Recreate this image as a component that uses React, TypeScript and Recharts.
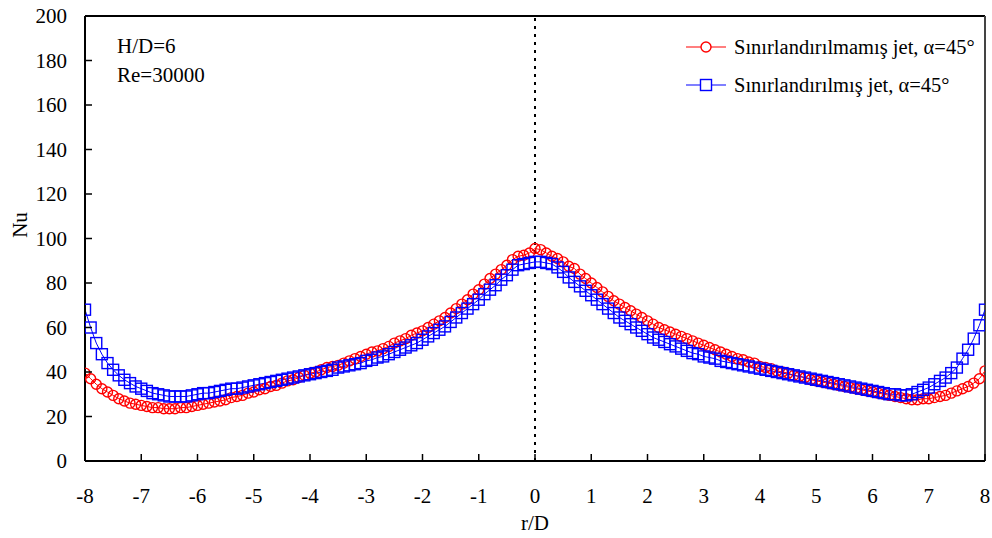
import { LineChart, Line, XAxis, YAxis, ReferenceLine, Customized } from "recharts";

const RED = "#ff0000";
const BLUE = "#0000ff";
const FONT = "'Liberation Serif', 'Times New Roman', serif";

// r/D positions of the measurement points
const R = [
  -8, -7.9, -7.8, -7.7, -7.6, -7.5, -7.4, -7.3, -7.2, -7.1,
  -7, -6.9, -6.8, -6.7, -6.6, -6.5, -6.4, -6.3, -6.2, -6.1,
  -6, -5.9, -5.8, -5.7, -5.6, -5.5, -5.4, -5.3, -5.2, -5.1,
  -5, -4.9, -4.8, -4.7, -4.6, -4.5, -4.4, -4.3, -4.2, -4.1,
  -4, -3.9, -3.8, -3.7, -3.6, -3.5, -3.4, -3.3, -3.2, -3.1,
  -3, -2.9, -2.8, -2.7, -2.6, -2.5, -2.4, -2.3, -2.2, -2.1,
  -2, -1.9, -1.8, -1.7, -1.6, -1.5, -1.4, -1.3, -1.2, -1.1,
  -1, -0.9, -0.8, -0.7, -0.6, -0.5, -0.4, -0.3, -0.2, -0.1,
  0, 0.1, 0.2, 0.3, 0.4, 0.5, 0.6, 0.7, 0.8, 0.9,
  1, 1.1, 1.2, 1.3, 1.4, 1.5, 1.6, 1.7, 1.8, 1.9,
  2, 2.1, 2.2, 2.3, 2.4, 2.5, 2.6, 2.7, 2.8, 2.9,
  3, 3.1, 3.2, 3.3, 3.4, 3.5, 3.6, 3.7, 3.8, 3.9,
  4, 4.1, 4.2, 4.3, 4.4, 4.5, 4.6, 4.7, 4.8, 4.9,
  5, 5.1, 5.2, 5.3, 5.4, 5.5, 5.6, 5.7, 5.8, 5.9,
  6, 6.1, 6.2, 6.3, 6.4, 6.5, 6.6, 6.7, 6.8, 6.9,
  7, 7.1, 7.2, 7.3, 7.4, 7.5, 7.6, 7.7, 7.8, 7.9,
  8,
];

// Sınırlandırılmamış jet (unconfined)
const NU_UNCONFINED = [
  39.5, 37, 34.5, 32.5, 31, 29.5, 28, 27, 26, 25.5,
  25, 24.5, 24, 24, 23.5, 23.5, 23.5, 24, 24, 24.5,
  25, 25.5, 26, 26.5, 27, 27.5, 28.5, 29, 29.5, 30.5,
  31, 32, 32.5, 33.5, 34, 35, 36, 36.5, 37.5, 38.5,
  39.5, 40, 41, 42, 42.5, 43, 44, 45, 46, 47,
  48, 49, 49.5, 50.5, 51.5, 53, 54, 55, 56.5, 57.5,
  58.5, 60, 61.5, 63, 64.5, 66.5, 68.5, 70.5, 72.5, 75,
  77, 79.5, 82, 84, 86, 88, 90.5, 92, 92.5, 93.5,
  95.5, 95, 93.5, 92, 91, 89.5, 87.5, 86.5, 84, 82,
  80, 78, 76, 74, 72, 70.5, 69, 67.5, 66, 64.5,
  63, 61.5, 60, 59, 58, 57, 56, 55, 54, 53,
  52, 51, 50, 49, 48, 47, 46, 45.5, 44.5, 44,
  42.5, 42, 41.5, 40.5, 40, 39.5, 38.5, 38, 37.5, 36.5,
  36, 35.5, 35, 34.5, 34, 33.5, 33, 32.5, 32, 31.5,
  31, 30.5, 30, 29.5, 29, 28.5, 28, 27.5, 27.5, 28,
  28, 28.5, 29, 29.5, 30.5, 31.5, 32.5, 33.5, 35, 37,
  40.5,
];

// Sınırlandırılmış jet (confined)
const NU_CONFINED = [
  68, 60, 53, 48, 44, 41, 38.5, 36.5, 35, 33.5,
  32.5, 31.5, 30.5, 30, 29.5, 29, 29, 29, 29, 29.5,
  30, 30.5, 30.5, 31, 31.5, 32, 32.5, 32.5, 33, 33.5,
  34, 34.5, 35, 35.5, 36, 36.5, 37, 37.5, 38, 38.5,
  39, 39.5, 40, 40.5, 41, 42, 42.5, 43, 43.5, 44,
  45, 45.5, 46.5, 47, 48, 49, 50, 51, 52, 53,
  54.5, 56, 57.5, 59, 60.5, 62.5, 64.5, 66.5, 68.5, 70.5,
  72.5, 75, 77, 79, 81.5, 83.5, 86, 88, 88.5, 89,
  89.5, 89.5, 89, 88.5, 87, 85, 82.5, 80.5, 78.5, 76.5,
  74.5, 72.5, 70.5, 68.5, 66.5, 64.5, 63, 61.5, 60, 58.5,
  57, 55.5, 54.5, 53.5, 52.5, 51.5, 50.5, 49.5, 48.5, 48,
  47, 46.5, 46, 45, 44.5, 44, 43.5, 43, 42.5, 42,
  41.5, 41, 40.5, 40, 39.5, 39, 38.5, 38, 37.5, 37,
  36.5, 36, 35.5, 35, 34.5, 34, 33.5, 33, 32.5, 32,
  31.5, 31, 30.5, 30, 30, 29.5, 29.5, 30, 31, 32,
  33, 34.5, 36, 37.5, 39.5, 42, 46, 50, 55, 61,
  68,
];

const X_TICKS = [-8, -7, -6, -5, -4, -3, -2, -1, 0, 1, 2, 3, 4, 5, 6, 7, 8];
const Y_TICKS = [0, 20, 40, 60, 80, 100, 120, 140, 160, 180, 200];
const SERIES_NAMES = ["Sınırlandırılmamış jet, α=45°", "Sınırlandırılmış jet, α=45°"];
const NOTES = ["H/D=6", "Re=30000"];

const data = R.map((r, i) => ({ r, unconfined: NU_UNCONFINED[i], confined: NU_CONFINED[i] }));

function YTick(props: any) {
  const { x, y, payload } = props;
  return (
    <g>
      <line x1={x + 18} x2={x + 25} y1={y} y2={y} stroke="#000" strokeWidth={1.5} />
      <text x={x} y={y + 7} textAnchor="end" fontFamily={FONT} fontSize={21} fill="#000">
        {payload.value}
      </text>
    </g>
  );
}

function XTick(props: any) {
  const { x, y, payload } = props;
  return (
    <g>
      <line x1={x} x2={x} y1={y} y2={y - 7} stroke="#000" strokeWidth={1.5} />
      <text x={x} y={y + 42} textAnchor="middle" fontFamily={FONT} fontSize={21} fill="#000">
        {payload.value}
      </text>
    </g>
  );
}

function SquareDot(props: any) {
  const { cx, cy, index } = props;
  if (cx == null || cy == null) return <g key={`sq-${index}`} />;
  return (
    <rect key={`sq-${index}`} x={cx - 5.5} y={cy - 5.5} width={11} height={11} fill="none" stroke={BLUE} strokeWidth={1.4} />
  );
}

function Overlay() {
  return (
    <g fontFamily={FONT} fontSize={21} fill="#000">
      <text x={117} y={53}>{NOTES[0]}</text>
      <text x={117} y={82}>{NOTES[1]}</text>
      <text x={535} y={530} textAnchor="middle">r/D</text>
      <text x={27} y={225} textAnchor="middle" transform="rotate(-90 27 225)">Nu</text>

      <line x1={686} x2={726} y1={47} y2={47} stroke={RED} strokeWidth={1.2} />
      <circle cx={706} cy={47} r={5} fill="#fff" stroke={RED} strokeWidth={1.4} />
      <text x={734} y={54} fontSize={20.5}>{SERIES_NAMES[0]}</text>

      <line x1={686} x2={726} y1={85} y2={85} stroke={BLUE} strokeWidth={1.2} />
      <rect x={700.5} y={79.5} width={11} height={11} fill="#fff" stroke={BLUE} strokeWidth={1.4} />
      <text x={734} y={92} fontSize={20.5}>{SERIES_NAMES[1]}</text>
    </g>
  );
}

export default function App() {
  return (
    <div style={{ width: 992, height: 538, background: "#fff" }}>
      <style>{"body{margin:0}"}</style>
      <LineChart width={992} height={538} data={data} margin={{ top: 16, right: 7, bottom: 0, left: 0 }}>
        <XAxis
          dataKey="r"
          type="number"
          domain={[-8, 8]}
          ticks={X_TICKS}
          interval={0}
          height={77}
          tickSize={0}
          tickMargin={0}
          tickLine={false}
          tick={<XTick />}
          axisLine={{ stroke: "#000", strokeWidth: 2 }}
          allowDataOverflow
        />
        <YAxis
          type="number"
          domain={[0, 200]}
          ticks={Y_TICKS}
          interval={0}
          width={85}
          tickSize={0}
          tickMargin={18}
          tickLine={false}
          tick={<YTick />}
          axisLine={{ stroke: "#000", strokeWidth: 2 }}
          allowDataOverflow
        />
        <ReferenceLine y={200} stroke="#000" strokeWidth={2} />
        <ReferenceLine x={8} stroke="#444" strokeWidth={2} />
        <ReferenceLine x={0} stroke="#000" strokeWidth={2} strokeDasharray="3 5" />
        <Line
          dataKey="unconfined"
          stroke={RED}
          strokeWidth={1}
          dot={{ r: 5, fill: "none", stroke: RED, strokeWidth: 1.4 }}
          activeDot={false}
          isAnimationActive={false}
        />
        <Line
          dataKey="confined"
          stroke={BLUE}
          strokeWidth={1}
          dot={SquareDot}
          activeDot={false}
          isAnimationActive={false}
        />
        <Customized component={Overlay} />
      </LineChart>
    </div>
  );
}
